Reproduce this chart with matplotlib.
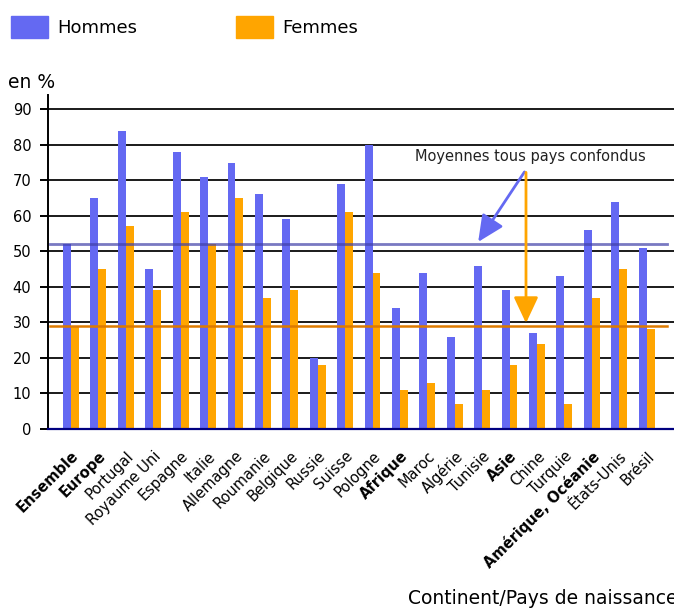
import matplotlib.pyplot as plt
import numpy as np
from matplotlib.patches import Patch

# part des immigrés (en %) par pays de naissance
categories = ['Ensemble', 'Europe', 'Portugal', 'Royaume Uni', 'Espagne', 'Italie',
              'Allemagne', 'Roumanie', 'Belgique', 'Russie', 'Suisse', 'Pologne',
              'Afrique', 'Maroc', 'Algérie', 'Tunisie', 'Asie', 'Chine', 'Turquie',
              'Amérique, Océanie', 'États-Unis', 'Brésil']
bold_labels = ['Ensemble', 'Europe', 'Afrique', 'Asie', 'Amérique, Océanie']
hommes = [52, 65, 84, 45, 78, 71, 75, 66, 59, 20, 69, 80, 34, 44, 26, 46, 39, 27, 43, 56, 64, 51]
femmes = [29, 45, 57, 39, 61, 52, 65, 37, 39, 18, 61, 44, 11, 13, 7, 11, 18, 24, 7, 37, 45, 28]
moy_hommes = 52
moy_femmes = 29
yticks = [0, 10, 20, 30, 40, 50, 60, 70, 80, 90]

blue = '#6469f2'
orange = '#ffa500'

plt.rcParams['font.family'] = 'DejaVu Sans'
fig = plt.figure(figsize=(6.74, 6.09), dpi=100)
ax = fig.add_axes([0.0712, 0.2956, 0.9288, 0.5484])

x = np.arange(len(categories))
w = 0.29
ax.bar(x - w / 2, hommes, width=w, color=blue, zorder=3)
ax.bar(x + w / 2, femmes, width=w, color=orange, zorder=3)

for t in yticks[1:]:
    ax.axhline(t, color='#1a1a1a', lw=1.4, zorder=1)

# moyennes tous pays confondus
ax.plot([-0.78, 21.75], [moy_hommes, moy_hommes], color='#4040a8', alpha=0.7, lw=2, zorder=4)
ax.plot([-0.78, 21.75], [moy_femmes, moy_femmes], color='#dd7a00', lw=1.8, zorder=4)
ax.text(12.55, 76.6, 'Moyennes tous pays confondus', ha='left', va='center', fontsize=10.5, color='#222222')
ax.annotate('', xy=(14.8, moy_hommes), xytext=(16.6, 73),
            arrowprops=dict(arrowstyle='-|>,head_length=1.6,head_width=0.75', color=blue, lw=2), zorder=5)
ax.annotate('', xy=(16.6, moy_femmes), xytext=(16.6, 73),
            arrowprops=dict(arrowstyle='-|>,head_length=1.6,head_width=0.75', color=orange, lw=2), zorder=5)

ax.set_xlim(-0.84, 22.0)
ax.set_ylim(0, 94)
ax.set_yticks(yticks)
ax.tick_params(axis='y', direction='out', length=6, width=1.4, labelsize=10.5, pad=6)
ax.tick_params(axis='x', length=0, pad=14)
ax.set_xticks(x)
ax.set_xticklabels(categories, rotation=45, ha='right', va='top', rotation_mode='anchor', fontsize=10.5)
for lab in ax.get_xticklabels():
    if lab.get_text() in bold_labels:
        lab.set_fontweight('bold')

for s in ['top', 'right']:
    ax.spines[s].set_visible(False)
ax.spines['left'].set_linewidth(1.4)
ax.spines['bottom'].set_color('#000080')
ax.spines['bottom'].set_linewidth(1.6)
ax.spines['bottom'].set_zorder(6)

fig.text(8 / 674, 1 - 82 / 609, 'en %', fontsize=13.5, va='center', ha='left')
fig.text(408 / 674, 1 - 598 / 609, 'Continent/Pays de naissance', fontsize=13.5, va='center', ha='left')

handles = [Patch(color=blue, label='Hommes'), Patch(color=orange, label='Femmes')]
fig.legend(handles=handles, loc='upper left', bbox_to_anchor=(11 / 674, 1 - 16 / 609), ncol=2, frameon=False,
           fontsize=13, handlelength=2.05, handleheight=1.5, columnspacing=5.5, handletextpad=0.5,
           borderaxespad=0, borderpad=0)

fig.savefig('out.png', dpi=100)
